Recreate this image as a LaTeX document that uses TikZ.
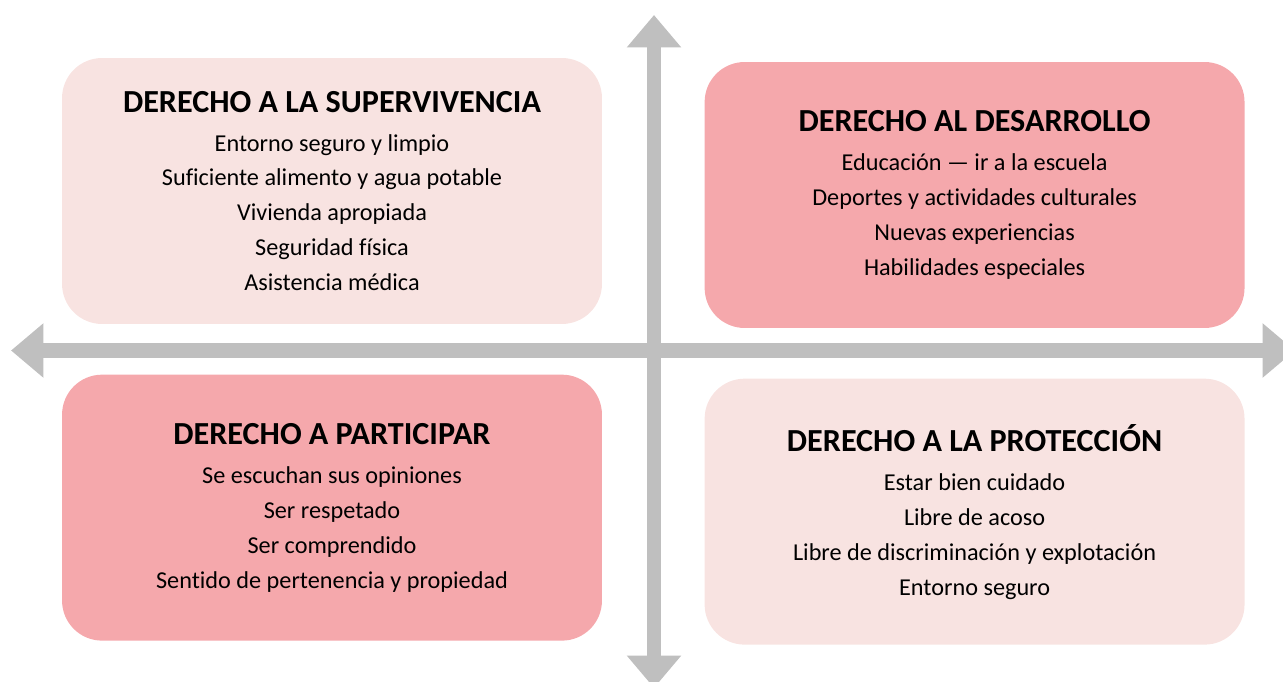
\documentclass[tikz,border=0pt]{standalone}
\usepackage{fontspec}
\setmainfont{Carlito}[Ligatures=NoCommon]
\usetikzlibrary{positioning,arrows.meta}
\definecolor{softpink}{RGB}{248,227,225}
\definecolor{rosepink}{RGB}{245,168,172}
\definecolor{axisgray}{RGB}{191,191,191}
\def\bw{10.8cm}
\def\bh{5.32cm}
\tikzstyle{quad}=[rectangle,rounded corners=0.8cm,minimum width=\bw,minimum height=\bh,inner sep=0pt]
\tikzstyle{quadtext}=[align=center,font=\fontsize{13.8}{19.9}\selectfont,inner sep=0pt]
\tikzstyle{axis}=[draw=axisgray,line width=0.29cm,{Triangle[width=1.05cm,length=0.65cm]}-{Triangle[width=1.05cm,length=0.65cm]}]
\newcommand{\quadtitle}[1]{{\fontsize{18.3}{19.9}\selectfont\bfseries #1}\\[2.3pt]}
\newcommand{\newQuad}[5]{\node[quad,fill=#3](#1)[#2]{};
  \node[quadtext](#1t) at (#1.center){\quadtitle{#4}#5};}

\begin{document}
\begin{tikzpicture}[x=0.02cm,y=-0.02cm,node distance=1cm and 2.04cm]
  \useasboundingbox (0,0) rectangle (1283,682);
  % axes
  \coordinate (top) at (654,15);
  \coordinate (bot) at (654,688);
  \coordinate (lft) at (11,350.5);
  \coordinate (rgt) at (1295,350.5);
  \draw[axis] (lft) -- (rgt);
  \draw[axis] (top) -- (bot);
  % quadrants
  \newQuad{surv}{at={(332,191)}}{softpink}{DERECHO A LA SUPERVIVENCIA}{Entorno seguro y limpio\\ Suficiente alimento y agua potable\\ Vivienda apropiada\\ Seguridad física\\ Asistencia médica}
  \newQuad{desa}{right=of surv,yshift=-0.08cm}{rosepink}{DERECHO AL DESARROLLO}{Educación — ir a la escuela\\ Deportes y actividades culturales\\ Nuevas experiencias\\ Habilidades especiales}
  \newQuad{part}{below=of surv}{rosepink}{DERECHO A PARTICIPAR}{Se escuchan sus opiniones\\ Ser respetado\\ Ser comprendido\\ Sentido de pertenencia y propiedad}
  \newQuad{prot}{below=of desa}{softpink}{DERECHO A LA PROTECCIÓN}{Estar bien cuidado\\ Libre de acoso\\ Libre de discriminación y explotación\\ Entorno seguro}
\end{tikzpicture}
\end{document}
